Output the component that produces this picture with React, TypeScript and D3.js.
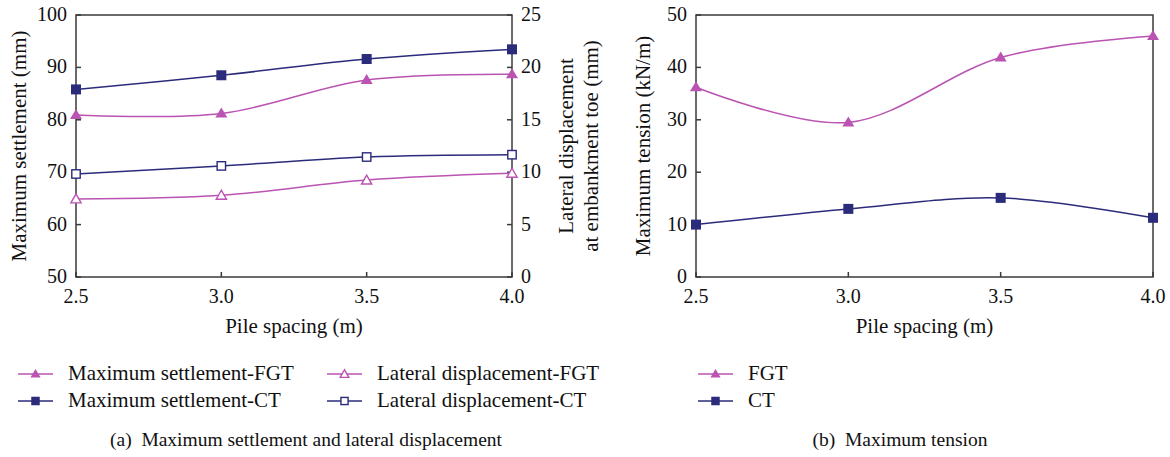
import React from 'react';
import * as d3 from 'd3';

// Pile spacing (m)
const spacing = [2.5, 3.0, 3.5, 4.0];

// (a) left axis: maximum settlement (mm)
const settlementFGT = [80.9, 81.2, 87.6, 88.7];
const settlementCT = [85.8, 88.5, 91.6, 93.45];
// (a) right axis: lateral displacement at embankment toe (mm)
const lateralFGT = [7.45, 7.8, 9.25, 9.9];
const lateralCT = [9.83, 10.6, 11.45, 11.67];

// (b) maximum tension (kN/m)
const tensionFGT = [36.2, 29.5, 41.9, 46.0];
const tensionCT = [10.0, 13.0, 15.1, 11.3];

const xTicks = [2.5, 3.0, 3.5, 4.0];
const settlementTicks = [50, 60, 70, 80, 90, 100];
const lateralTicks = [0, 5, 10, 15, 20, 25];
const tensionTicks = [0, 10, 20, 30, 40, 50];

const NAVY = '#2b2b7c';
const MAGENTA = '#bb53b2';
const AXIS = '#3a3a3a';
const FONT = "'Liberation Serif', 'Times New Roman', 'DejaVu Serif', serif";

type Marker = 'tri' | 'triOpen' | 'sq' | 'sqOpen';

function MarkerShape({ x, y, type, color, s = 1 }: { x: number; y: number; type: Marker; color: string; s?: number }) {
  if (type === 'tri' || type === 'triOpen') {
    const w = 6 * s, h = 10 * s;
    const pts = `${x},${y - h * 0.6} ${x - w},${y + h * 0.4} ${x + w},${y + h * 0.4}`;
    return type === 'tri'
      ? <polygon points={pts} fill={color} />
      : <polygon points={`${x},${y - h * 0.5} ${x - w * 0.85},${y + h * 0.4} ${x + w * 0.85},${y + h * 0.4}`} fill="#fff" stroke={color} strokeWidth={1.4} />;
  }
  const r = type === 'sq' ? 5 * s : 4.2 * s;
  return type === 'sq'
    ? <rect x={x - r} y={y - r} width={2 * r} height={2 * r} fill={color} />
    : <rect x={x - r} y={y - r} width={2 * r} height={2 * r} fill="#fff" stroke={color} strokeWidth={1.4} />;
}

function Series({ values, x, y, color, marker }: {
  values: number[]; x: d3.ScaleLinear<number, number>; y: d3.ScaleLinear<number, number>; color: string; marker: Marker;
}) {
  const line = d3.line<number>()
    .x((_, i) => x(spacing[i]))
    .y(d => y(d))
    .curve(d3.curveCatmullRom.alpha(0));
  return (
    <g>
      <path d={line(values) || ''} fill="none" stroke={color} strokeWidth={1.5} />
      {values.map((v, i) => (
        <MarkerShape key={i} x={x(spacing[i])} y={y(v)} type={marker} color={color} />
      ))}
    </g>
  );
}

function Frame({ left, right, top, bottom, x, yL, yR, lTicks, rTicks }: {
  left: number; right: number; top: number; bottom: number;
  x: d3.ScaleLinear<number, number>; yL: d3.ScaleLinear<number, number>; yR?: d3.ScaleLinear<number, number>;
  lTicks: number[]; rTicks?: number[];
}) {
  return (
    <g style={{ fontFamily: FONT }} fill="#111">
      <rect x={left} y={top} width={right - left} height={bottom - top} fill="none" stroke={AXIS} strokeWidth={1.5} />
      {xTicks.map(t => (
        <g key={'x' + t}>
          <line x1={x(t)} x2={x(t)} y1={bottom} y2={bottom - 5} stroke={AXIS} strokeWidth={1.5} />
          <text x={x(t)} y={bottom + 26} textAnchor="middle" fontSize={20}>{t.toFixed(1)}</text>
        </g>
      ))}
      {lTicks.map(t => (
        <g key={'l' + t}>
          <line x1={left} x2={left + 5} y1={yL(t)} y2={yL(t)} stroke={AXIS} strokeWidth={1.5} />
          <text x={left - 9} y={yL(t) + 6} textAnchor="end" fontSize={20}>{t}</text>
        </g>
      ))}
      {yR && rTicks && rTicks.map(t => (
        <g key={'r' + t}>
          <line x1={right - 5} x2={right} y1={yR(t)} y2={yR(t)} stroke={AXIS} strokeWidth={1.5} />
          <text x={right + 9} y={yR(t) + 6} textAnchor="start" fontSize={20}>{t}</text>
        </g>
      ))}
    </g>
  );
}

function LegendItem({ x, y, color, marker, label }: { x: number; y: number; color: string; marker: Marker; label: string }) {
  return (
    <g>
      <line x1={x} x2={x + 35} y1={y} y2={y} stroke={color} strokeWidth={1.5} />
      <MarkerShape x={x + 17.5} y={y} type={marker} color={color} s={0.85} />
      <text x={x + 50} y={y + 6} fontSize={21} style={{ fontFamily: FONT }} fill="#111">{label}</text>
    </g>
  );
}

export default function App() {
  const top = 15, bottom = 277;
  const aL = 76, aR = 512;
  const bL = 696, bR = 1153;

  const xA = d3.scaleLinear().domain([2.5, 4.0]).range([aL, aR]);
  const ySet = d3.scaleLinear().domain([50, 100]).range([bottom, top]);
  const yLat = d3.scaleLinear().domain([0, 25]).range([bottom, top]);
  const xB = d3.scaleLinear().domain([2.5, 4.0]).range([bL, bR]);
  const yTen = d3.scaleLinear().domain([0, 50]).range([bottom, top]);
  const midY = (top + bottom) / 2;

  return (
    <svg width={1170} height={457} style={{ position: 'absolute', left: 0, top: 0, background: '#fff' }}>
      {/* (a) */}
      <Frame left={aL} right={aR} top={top} bottom={bottom} x={xA} yL={ySet} yR={yLat} lTicks={settlementTicks} rTicks={lateralTicks} />
      <Series values={lateralFGT} x={xA} y={yLat} color={MAGENTA} marker="triOpen" />
      <Series values={lateralCT} x={xA} y={yLat} color={NAVY} marker="sqOpen" />
      <Series values={settlementFGT} x={xA} y={ySet} color={MAGENTA} marker="tri" />
      <Series values={settlementCT} x={xA} y={ySet} color={NAVY} marker="sq" />
      <g style={{ fontFamily: FONT }} fontSize={21} fill="#111" textAnchor="middle">
        <text transform={`translate(26,${midY}) rotate(-90)`}>Maximum settlement (mm)</text>
        <text transform={`translate(573,${midY}) rotate(-90)`}>Lateral displacement</text>
        <text transform={`translate(598,${midY}) rotate(-90)`}>at embankment toe (mm)</text>
        <text x={(aL + aR) / 2} y={333}>Pile spacing (m)</text>
      </g>

      {/* (b) */}
      <Frame left={bL} right={bR} top={top} bottom={bottom} x={xB} yL={yTen} lTicks={tensionTicks} />
      <Series values={tensionFGT} x={xB} y={yTen} color={MAGENTA} marker="tri" />
      <Series values={tensionCT} x={xB} y={yTen} color={NAVY} marker="sq" />
      <g style={{ fontFamily: FONT }} fontSize={21} fill="#111" textAnchor="middle">
        <text transform={`translate(650,${midY}) rotate(-90)`}>Maximum tension (kN/m)</text>
        <text x={(bL + bR) / 2} y={333}>Pile spacing (m)</text>
      </g>

      {/* legends */}
      <LegendItem x={18} y={374} color={MAGENTA} marker="tri" label="Maximum settlement-FGT" />
      <LegendItem x={18} y={401} color={NAVY} marker="sq" label="Maximum settlement-CT" />
      <LegendItem x={327} y={374} color={MAGENTA} marker="triOpen" label="Lateral displacement-FGT" />
      <LegendItem x={327} y={401} color={NAVY} marker="sqOpen" label="Lateral displacement-CT" />
      <LegendItem x={698} y={374} color={MAGENTA} marker="tri" label="FGT" />
      <LegendItem x={698} y={401} color={NAVY} marker="sq" label="CT" />

      {/* captions */}
      <g style={{ fontFamily: FONT }} fontSize={19.5} fill="#111" textAnchor="middle">
        <text x={306} y={446} xmlSpace="preserve">(a)  Maximum settlement and lateral displacement</text>
        <text x={900} y={446} xmlSpace="preserve">(b)  Maximum tension</text>
      </g>
    </svg>
  );
}
